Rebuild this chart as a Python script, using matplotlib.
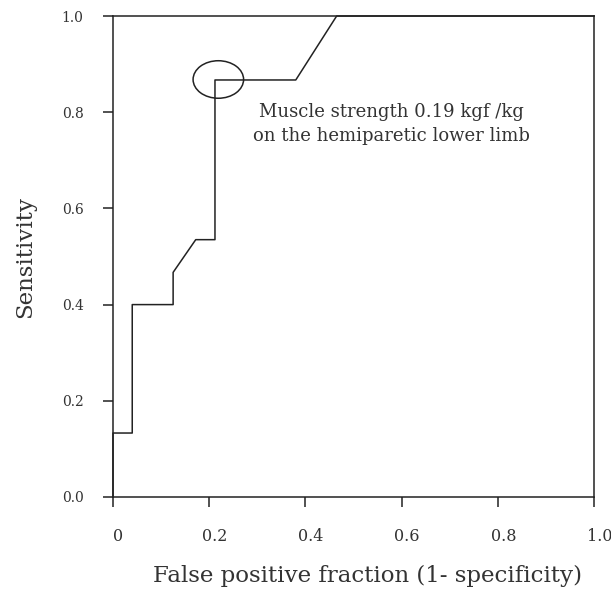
import matplotlib
matplotlib.use("Agg")
import matplotlib.pyplot as plt
from matplotlib.patches import Ellipse
from matplotlib.transforms import ScaledTranslation

# ROC curve points
fpr = [0.0, 0.0, 0.04, 0.04, 0.125, 0.125, 0.172, 0.212, 0.212, 0.38, 0.465, 1.0]
tpr = [0.0, 0.133, 0.133, 0.40, 0.40, 0.467, 0.535, 0.535, 0.867, 0.867, 1.0, 1.0]

x_ticks = [0, 0.2, 0.4, 0.6, 0.8, 1.0]
x_tick_labels = ["0", "0.2", "0.4", "0.6", "0.8", "1.0"]
y_ticks = [0.0, 0.2, 0.4, 0.6, 0.8, 1.0]
y_tick_labels = ["0.0", "0.2", "0.4", "0.6", "0.8", "1.0"]

cutoff = (0.219, 0.868)
note = "Muscle strength 0.19 kgf /kg\non the hemiparetic lower limb"

plt.rcParams["font.family"] = ["DejaVu Serif"]

fig = plt.figure(figsize=(6.11, 5.89), dpi=100)
ax = fig.add_axes([113 / 611, 92 / 589, 481 / 611, 481 / 589])

ax.plot(fpr, tpr, color="#222222", linewidth=1.1, clip_on=False)

# circle marking the chosen cut-off
ax.add_patch(Ellipse(cutoff, 0.105, 0.078, fill=False, edgecolor="#222222", linewidth=1.1))
ax.text(0.578, 0.776, note, ha="center", va="center", fontsize=13,
        color="#333333", linespacing=1.4)

ax.set_xlim(0, 1)
ax.set_ylim(0, 1)
ax.set_xticks(x_ticks)
ax.set_xticklabels(x_tick_labels)
ax.set_yticks(y_ticks)
ax.set_yticklabels(y_tick_labels)
ax.tick_params(axis="both", direction="out", length=7.2, width=1.1,
               colors="#222222", labelcolor="#333333")
ax.tick_params(axis="x", pad=15, labelsize=11.5)
ax.tick_params(axis="y", pad=14, labelsize=10)
# x tick labels sit a little to the right of their ticks
shift = ScaledTranslation(5.5 / 100, 0, fig.dpi_scale_trans)
for lab in ax.get_xticklabels():
    lab.set_transform(lab.get_transform() + shift)
for s in ax.spines.values():
    s.set_linewidth(1.1)
    s.set_color("#222222")

ax.set_xlabel("False positive fraction (1- specificity)", fontsize=16.5,
              color="#333333")
ax.xaxis.set_label_coords(0.53, -0.142)
ax.set_ylabel("Sensitivity", fontsize=16.5, color="#333333")
ax.yaxis.set_label_coords(-0.16, 0.5)

fig.savefig("out.png", dpi=100)
